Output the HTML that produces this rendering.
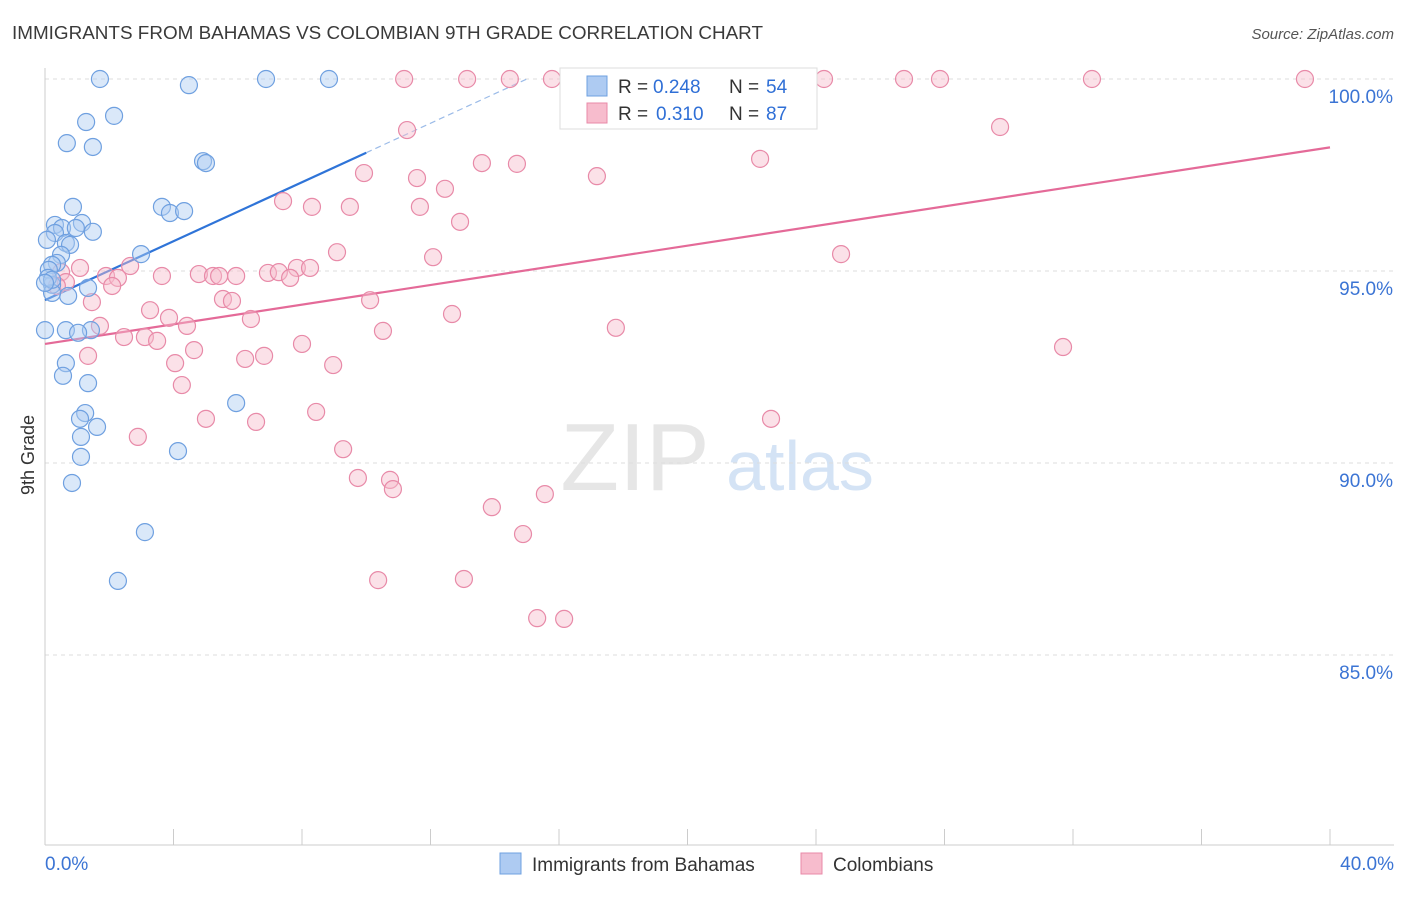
<!DOCTYPE html>
<html><head><meta charset="utf-8"><style>
body{margin:0;background:#fff;font-family:"Liberation Sans",sans-serif}
svg text{font-family:"Liberation Sans",sans-serif}
</style></head><body>
<svg id="chart" width="1406" height="892" xmlns="http://www.w3.org/2000/svg">
<text x="12" y="39" font-size="18" fill="#3a3a3a" textLength="751" lengthAdjust="spacingAndGlyphs">IMMIGRANTS FROM BAHAMAS VS COLOMBIAN 9TH GRADE CORRELATION CHART</text>
<text x="1394" y="39" font-size="15" fill="#555" text-anchor="end" font-style="italic">Source: ZipAtlas.com</text>
<text x="0" y="0" transform="translate(34,455) rotate(-90)" font-size="18" fill="#333" text-anchor="middle">9th Grade</text>
<g>
<text x="635" y="490" font-size="96" fill="#e6e6e6" text-anchor="middle" font-family="Liberation Serif,serif">ZIP</text>
<text x="800" y="490" font-size="70" fill="#d4e3f5" text-anchor="middle">atlas</text>
</g>
<g id="grid"></g><g id="axes"></g><g id="lines"></g><g id="pts"></g>
<g>
<rect x="560" y="68" width="257" height="61" fill="#fff" stroke="#ddd"/>
<rect x="587" y="76" width="20" height="20" fill="#aecbf2" stroke="#6fa0e0"/>
<text x="618" y="93" font-size="19" fill="#333">R =</text>
<text x="653" y="93" font-size="19" fill="#2f6fd6">0.248</text>
<text x="729" y="93" font-size="19" fill="#333">N =</text>
<text x="766" y="93" font-size="19" fill="#2f6fd6">54</text>
<rect x="587" y="103" width="20" height="20" fill="#f7bccd" stroke="#e88aa8"/>
<text x="618" y="120" font-size="19" fill="#333">R =</text>
<text x="656" y="120" font-size="19" fill="#2f6fd6">0.310</text>
<text x="729" y="120" font-size="19" fill="#333">N =</text>
<text x="766" y="120" font-size="19" fill="#2f6fd6">87</text>
</g>
<g>
<rect x="500" y="853" width="21" height="21" fill="#aecbf2" stroke="#6fa0e0"/>
<text x="532" y="871" font-size="19" fill="#333">Immigrants from Bahamas</text>
<rect x="801" y="853" width="21" height="21" fill="#f7bccd" stroke="#e88aa8"/>
<text x="833" y="871" font-size="19" fill="#333">Colombians</text>
</g>
</svg>
<script>
const blueX=[1.71,4.48,6.88,8.84,2.15,1.28,0.68,1.49,4.92,5.01,3.64,3.89,4.33,0.87,0.31,1.15,0.53,0.96,1.49,0.31,0.06,0.65,0.78,0.5,2.99,0.37,0.22,0.12,0.22,1.34,0.72,0.22,0,0.65,1.43,1.03,0.65,0.56,1.34,5.95,1.25,1.09,1.62,1.12,1.12,4.14,0.84,3.11,2.27,0.09,0.22,0];
const blueY=[100,99.84,100,100,99.04,98.88,98.33,98.23,97.86,97.81,96.67,96.51,96.56,96.67,96.2,96.25,96.12,96.12,96.02,95.99,95.81,95.73,95.68,95.42,95.44,95.21,95.16,95.03,94.64,94.56,94.35,94.43,93.46,93.46,93.46,93.39,92.6,92.27,92.08,91.56,91.3,91.15,90.94,90.68,90.16,90.31,89.48,88.2,86.93,94.82,94.77,94.69];
const pinkX=[11.18,13.14,14.47,15.78,19.52,24.25,26.74,27.86,32.59,39.22,11.27,29.73,13.6,14.69,22.26,9.93,11.58,12.45,17.18,7.41,8.31,9.49,11.67,12.92,9.09,12.08,24.78,2.65,1.09,0.5,1.9,2.27,3.64,4.79,5.23,5.42,5.95,6.94,7.28,7.84,8.25,7.63,2.09,0.65,0.37,1.46,5.54,5.82,10.12,3.27,3.86,4.42,1.71,2.46,3.11,3.49,6.41,12.67,17.77,10.52,8.0,4.64,1.34,4.05,6.23,6.82,8.97,4.26,8.44,5.01,6.57,22.6,2.89,9.28,9.74,10.74,10.83,15.56,13.91,14.88,10.37,13.04,15.32,16.16,31.69];
const pinkY=[100,100,100,100,100,100,100,100,100,100,98.67,98.75,97.81,97.79,97.92,97.55,97.42,97.14,97.47,96.82,96.67,96.67,96.67,96.28,95.49,95.36,95.44,95.13,95.08,94.97,94.87,94.82,94.87,94.92,94.87,94.87,94.87,94.95,94.97,95.08,95.08,94.82,94.61,94.71,94.61,94.19,94.27,94.22,94.24,93.98,93.78,93.57,93.57,93.28,93.28,93.18,93.75,93.88,93.52,93.44,93.1,92.94,92.79,92.6,92.71,92.79,92.55,92.03,91.33,91.15,91.07,91.15,90.68,90.36,89.61,89.56,89.32,89.19,88.85,88.15,86.95,86.98,85.96,85.94,93.02];
const yTicks=[100,95,90,85];
const yTickLabels=["100.0%","95.0%","90.0%","85.0%"];
const blueTrend=[94.24,0.384];
const pinkTrend=[93.1,0.128];
const NS="http://www.w3.org/2000/svg";
const sx=v=>45+v*32.125, sy=v=>79+(100-v)*38.4;
function mk(t,a,p){const e=document.createElementNS(NS,t);for(const k in a)e.setAttribute(k,a[k]);p.appendChild(e);return e;}
const grid=document.getElementById('grid'),axes=document.getElementById('axes');
yTicks.forEach((t,i)=>{
 const l=mk('line',{x1:45,x2:1394,y1:sy(t),y2:sy(t),stroke:'#ddd','stroke-dasharray':'4,4'},grid);
 
 
 const tx=mk('text',{x:1393,y:sy(t)+24,'font-size':19,fill:'#3b74d4','text-anchor':'end'},axes);
 tx.textContent=yTickLabels[i];
 
 
});
mk('line',{x1:45,x2:45,y1:68,y2:845,stroke:'#ccc'},axes);
mk('line',{x1:45,x2:1394,y1:845,y2:845,stroke:'#ccc'},axes);
for(let i=0;i<=10;i++){const x=sx(i*4);const t=mk('line',{x1:x,x2:x,y1:829,y2:845,stroke:'#ccc'},axes);
 
 }
const x0=mk('text',{x:45,y:870,'font-size':19,fill:'#3b74d4'},axes);x0.textContent='0.0%';


const x1=mk('text',{x:1394,y:870,'font-size':19,fill:'#3b74d4','text-anchor':'end'},axes);x1.textContent='40.0%';


const pts=document.getElementById('pts');
function dots(X,Y,fill,stroke,name){X.forEach((x,i)=>{const c=mk('circle',{cx:sx(x),cy:sy(Y[i]),r:8.5,fill:fill,'fill-opacity':0.45,stroke:stroke,'stroke-width':1.2},pts);
 
 });}
dots(pinkX,pinkY,'#f7bccd','#e88aa8','colombians-point');
dots(blueX,blueY,'#aecbf2','#6fa0e0','bahamas-point');
const lines=document.getElementById('lines');
const bEnd=(100-blueTrend[0])/blueTrend[1];
const b1=mk('line',{x1:sx(0),y1:sy(blueTrend[0]),x2:sx(10),y2:sy(blueTrend[0]+10*blueTrend[1]),stroke:'#2f74d8','stroke-width':2.2},lines);


const b2=mk('line',{x1:sx(10),y1:sy(blueTrend[0]+10*blueTrend[1]),x2:sx(bEnd),y2:sy(100),stroke:'#9bbbe8','stroke-width':1.2,'stroke-dasharray':'6,4'},lines);


const p1=mk('line',{x1:sx(0),y1:sy(pinkTrend[0]),x2:sx(40),y2:sy(pinkTrend[0]+40*pinkTrend[1]),stroke:'#e46a98','stroke-width':2.2},lines);


</script>
</body></html>
